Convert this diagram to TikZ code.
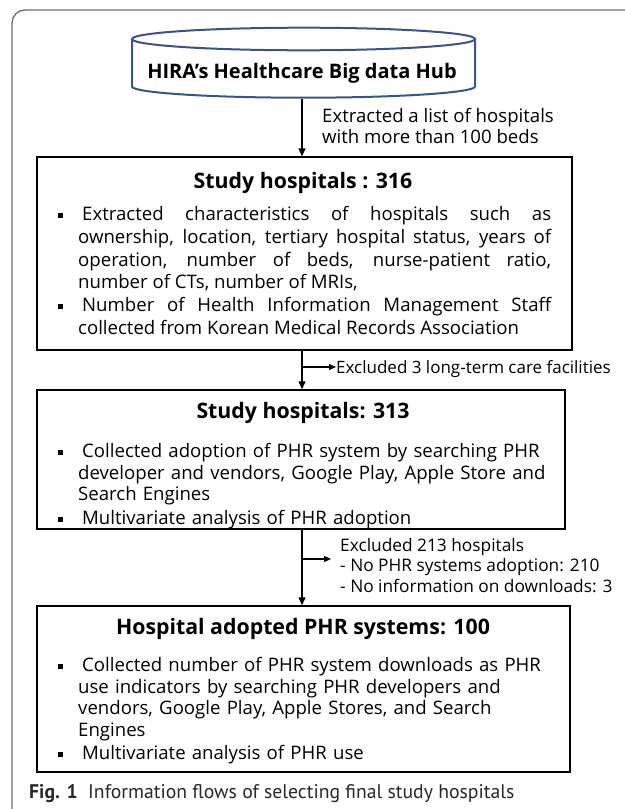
\documentclass[tikz,border=0pt]{standalone}
\usepackage{fontspec}
\setmainfont{Open Sans}
\newfontfamily\capfont{PT Sans}
\usetikzlibrary{arrows.meta}

\definecolor{hubblue}{RGB}{54,86,138}
\definecolor{framegray}{RGB}{110,110,110}
\definecolor{capgray}{RGB}{40,40,40}

% bullet item with hanging indent
\newcommand\bul{\par\hangindent=20bp\hangafter=1\noindent
  \makebox[20bp][l]{\raisebox{2.5bp}{\rule{5bp}{5bp}}}\hspace{4bp}\strut}

\tikzset{
  frame/.style={draw=framegray, line width=1.3bp, rounded corners=13bp},
  hub/.style={draw=hubblue, line width=2bp},
  stagebox/.style={draw=black, line width=1.4bp, inner sep=0pt},
  flow/.style={line width=1.2bp, -{Triangle[length=8bp,width=7bp]}},
  side/.style={line width=1.2bp, -{Triangle[length=7bp,width=6bp]}},
  hubtext/.style={font=\fontsize{20bp}{24bp}\selectfont\bfseries, anchor=base, inner sep=0pt},
  title/.style={font=\fontsize{21.3bp}{25bp}\selectfont\bfseries, anchor=base, inner sep=0pt},
  body/.style={anchor=north west, inner sep=0pt},
  note/.style={font=\fontsize{17bp}{20.5bp}\selectfont, anchor=base west, inner sep=0pt, align=left},
}

\begin{document}
\begin{tikzpicture}[x=1bp,y=-1bp]
\useasboundingbox (0,0) rectangle (625,809);

% outer figure frame (runs off the page to the right and bottom)
\draw[frame] (12,10) rectangle (680,822);

% data hub drawn as a cylinder
\draw[hub] (132,39) -- (132,86.5) arc[start angle=180, end angle=0, x radius=171.5, y radius=11.2] -- (475,39);
\draw[hub, fill=white] (303.5,39) ellipse[x radius=171.5, y radius=11.3];
\node[hubtext] (hub) at (302,78.5) {HIRA’s Healthcare Big data Hub};
\coordinate (hubbase) at (302,98.5);
\coordinate (col) at (302,0);

% stage boxes
\node[stagebox, minimum width=535bp, minimum height=193bp] (box1) at (304.5,253.5) {};
\node[stagebox, minimum width=528bp, minimum height=139bp] (box2) at (301,459.5) {};
\node[stagebox, minimum width=533bp, minimum height=166bp] (box3) at (303.5,689) {};

% box 1 (justified text)
\node[title] (t1) at (303,188) {Study hospitals : 316};
\node[body, text width=493bp, align=justify,
      font=\fontsize{18.6bp}{22.8bp}\selectfont] (b1) at (58,197.5) {\tolerance=10000
  \bul Extracted characteristics of hospitals such as\linebreak
  ownership, location, tertiary hospital status, years of\linebreak
  operation, number of beds, nurse-patient ratio,\linebreak
  number of CTs, number of MRIs,
  \bul Number of Health Information Management Staff\linebreak
  collected from Korean Medical Records Association\par};

% box 2
\node[title] (t2) at (303,418) {Study hospitals: 313};
\node[body, text width=505bp, align=left,
      font=\fontsize{18.6bp}{21.5bp}\selectfont] (b2) at (58,433.5) {\parskip=2.5bp
  \bul Collected adoption of PHR system by searching PHR\newline
  developer and vendors, Google Play, Apple Store and\newline
  Search Engines
  \bul Multivariate analysis of PHR adoption\par};

% box 3
\node[title] (t3) at (303,634) {Hospital adopted PHR systems: 100};
\node[body, text width=505bp, align=left,
      font=\fontsize{18.6bp}{21.5bp}\selectfont] (b3) at (58,648) {\parskip=2bp
  \bul Collected number of PHR system downloads as PHR\newline
  use indicators by searching PHR developers and\newline
  vendors, Google Play, Apple Stores, and Search\newline
  Engines
  \bul Multivariate analysis of PHR use\par};

% main flow
\draw[flow] (hubbase) -- (box1.north -| col);
\draw[flow] (box1.south -| col) -- (box2.north -| col);
\draw[flow] (box2.south -| col) -- (box3.north -| col);

\node[note, font=\fontsize{18.6bp}{21bp}\selectfont] (n1) at (322,143) {Extracted a list of hospitals\\with more than 100 beds};

% exclusions
\coordinate (x1) at (302,367);
\node[note] (n2) at (336,373) {Excluded 3 long-term care facilities};
\draw[side] (x1) -- (n2.west |- x1);

\coordinate (x2) at (302,559);
\node[note, font=\fontsize{17.3bp}{20.7bp}\selectfont] (n3) at (340,592.5) {Excluded 213 hospitals\\- No PHR systems adoption: 210\\- No information on downloads: 3};
\draw[side] (x2) -- ([xshift=-9bp]n3.west |- x2);

% caption
\node[anchor=base west, inner sep=0pt, font=\capfont\fontsize{19.7bp}{23bp}\selectfont, text=capgray] (cap) at (29,798)
  {\textbf{Fig. 1}\ \ Information flows of selecting final study hospitals};
\end{tikzpicture}
\end{document}
